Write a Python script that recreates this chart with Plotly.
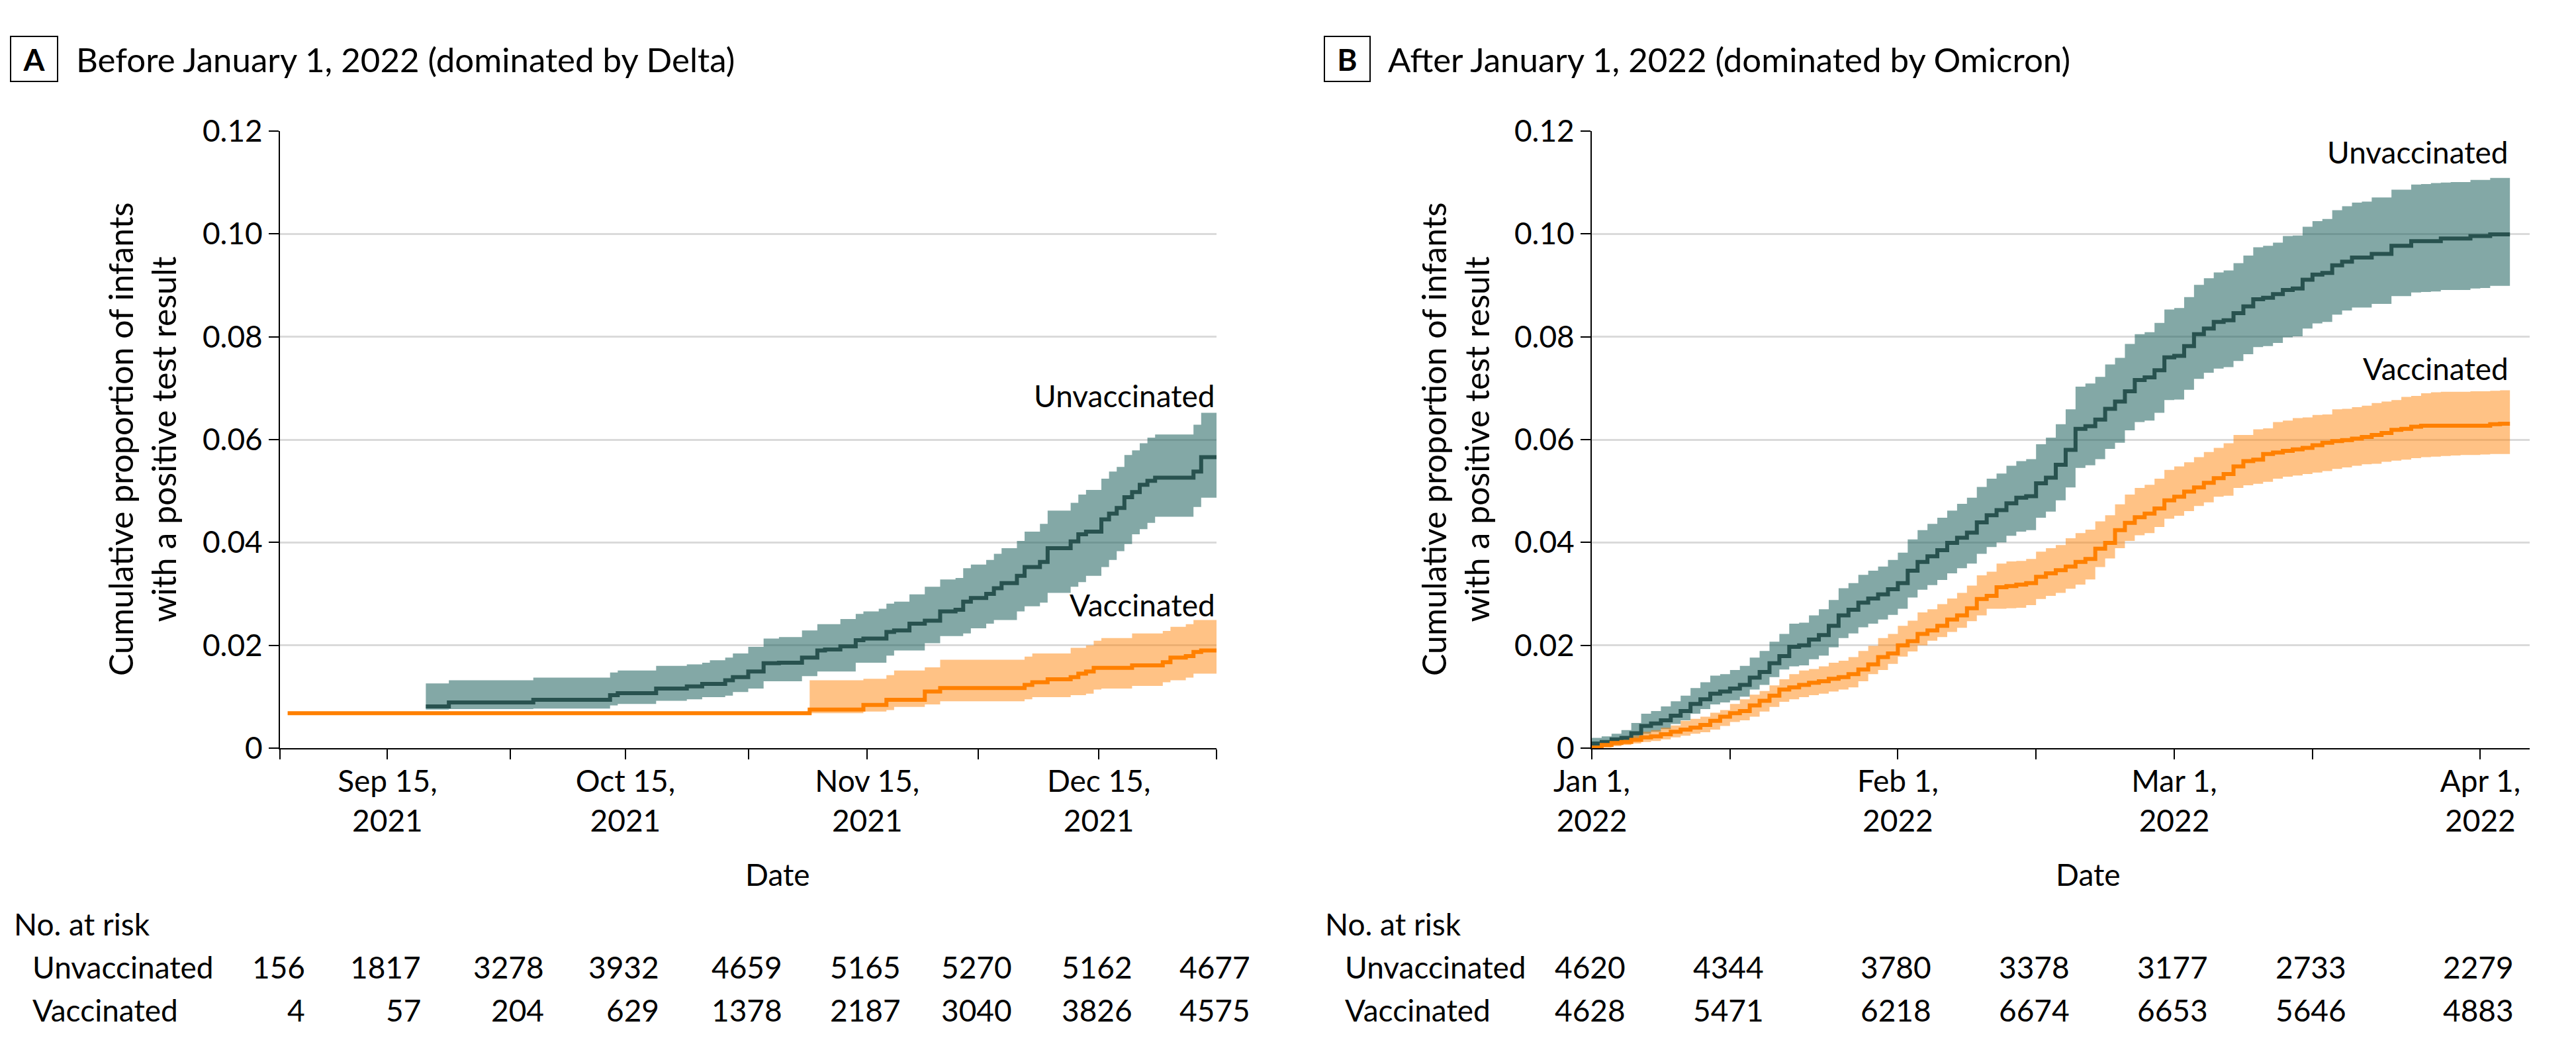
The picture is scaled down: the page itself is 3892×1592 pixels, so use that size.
import pandas as pd
import plotly.graph_objects as go

# ======================= DATA =======================
# ---- Panel A (before Jan 1, 2022): step start dates and cumulative proportions
a_unvax_dates = ["2021-09-20", "2021-09-23", "2021-10-04", "2021-10-14", "2021-10-15", "2021-10-20",
                 "2021-10-24", "2021-10-26", "2021-10-27", "2021-10-29", "2021-10-30", "2021-11-01",
                 "2021-11-03", "2021-11-05", "2021-11-08", "2021-11-10", "2021-11-11", "2021-11-13",
                 "2021-11-15", "2021-11-16", "2021-11-18", "2021-11-19", "2021-11-20", "2021-11-22",
                 "2021-11-24", "2021-11-26", "2021-11-28", "2021-11-29", "2021-11-30", "2021-12-02",
                 "2021-12-03", "2021-12-04", "2021-12-06", "2021-12-07", "2021-12-09", "2021-12-10",
                 "2021-12-13", "2021-12-14", "2021-12-15", "2021-12-17", "2021-12-18", "2021-12-19",
                 "2021-12-20", "2021-12-21", "2021-12-22", "2021-12-23", "2021-12-24", "2021-12-29",
                 "2021-12-30", "2022-01-01"]
a_unvax_cum = [0.0081, 0.0089, 0.0094, 0.0103, 0.0107, 0.0116, 0.0120, 0.0125, 0.0125, 0.0132,
               0.0138, 0.0149, 0.0165, 0.0166, 0.0176, 0.0190, 0.0192, 0.0198, 0.0210, 0.0213,
               0.0213, 0.0226, 0.0229, 0.0242, 0.0248, 0.0266, 0.0269, 0.0285, 0.0292, 0.0300,
               0.0311, 0.0321, 0.0335, 0.0352, 0.0362, 0.0389, 0.0402, 0.0416, 0.0421, 0.0445,
               0.0456, 0.0467, 0.0488, 0.0498, 0.0512, 0.0520, 0.0526, 0.0538, 0.0566, 0.0569]
a_unvax_lo = [0.0075, 0.0076, 0.0077, 0.0083, 0.0086, 0.0092, 0.0095, 0.0099, 0.0099, 0.0102,
              0.0109, 0.0116, 0.0130, 0.0130, 0.0140, 0.0149, 0.0149, 0.0149, 0.0166, 0.0166,
              0.0166, 0.0180, 0.0190, 0.0190, 0.0204, 0.0218, 0.0218, 0.0223, 0.0233, 0.0242,
              0.0249, 0.0249, 0.0266, 0.0276, 0.0283, 0.0302, 0.0314, 0.0323, 0.0335, 0.0352,
              0.0366, 0.0383, 0.0397, 0.0416, 0.0426, 0.0438, 0.0450, 0.0469, 0.0487, 0.0487]
a_unvax_hi = [0.0126, 0.0132, 0.0137, 0.0147, 0.0151, 0.0160, 0.0163, 0.0166, 0.0171, 0.0176,
              0.0184, 0.0197, 0.0213, 0.0216, 0.0229, 0.0241, 0.0241, 0.0251, 0.0261, 0.0266,
              0.0271, 0.0281, 0.0285, 0.0299, 0.0314, 0.0328, 0.0331, 0.0350, 0.0357, 0.0366,
              0.0378, 0.0389, 0.0403, 0.0421, 0.0436, 0.0462, 0.0477, 0.0493, 0.0502, 0.0524,
              0.0538, 0.0547, 0.0570, 0.0579, 0.0593, 0.0604, 0.0610, 0.0629, 0.0652, 0.0652]

a_vax_dates = ["2021-09-02", "2021-11-09", "2021-11-16", "2021-11-19", "2021-11-20", "2021-11-24",
               "2021-11-26", "2021-12-07", "2021-12-08", "2021-12-10", "2021-12-13", "2021-12-14",
               "2021-12-15", "2021-12-16", "2021-12-17", "2021-12-21", "2021-12-25", "2021-12-26",
               "2021-12-28", "2021-12-29", "2021-12-30", "2022-01-01"]
a_vax_cum = [0.0068, 0.0075, 0.0084, 0.0094, 0.0094, 0.0110, 0.0117, 0.0123, 0.0128, 0.0134,
             0.0138, 0.0145, 0.0149, 0.0156, 0.0156, 0.0161, 0.0167, 0.0176, 0.0179, 0.0187,
             0.0190, 0.0190]
a_vax_lo = [None, 0.0068, 0.0071, 0.0074, 0.0080, 0.0085, 0.0091, 0.0095, 0.0099, 0.0099,
            0.0103, 0.0103, 0.0106, 0.0114, 0.0116, 0.0121, 0.0128, 0.0132, 0.0137, 0.0145,
            0.0145, 0.0145]
a_vax_hi = [None, 0.0132, 0.0135, 0.0142, 0.0151, 0.0157, 0.0172, 0.0178, 0.0184, 0.0184,
            0.0195, 0.0195, 0.0200, 0.0209, 0.0214, 0.0223, 0.0228, 0.0236, 0.0241, 0.0249,
            0.0249, 0.0249]

# ---- Panel B (after Jan 1, 2022): daily values starting 2022-01-01
b_start = "2022-01-01"
b_unvax_cum = [0.0009, 0.0012, 0.0017, 0.0020, 0.0029, 0.0043, 0.0048, 0.0054, 0.0063, 0.0072,
               0.0086, 0.0095, 0.0106, 0.0110, 0.0116, 0.0123, 0.0137, 0.0148, 0.0165, 0.0179,
               0.0197, 0.0200, 0.0211, 0.0220, 0.0238, 0.0258, 0.0269, 0.0283, 0.0291, 0.0299,
               0.0309, 0.0321, 0.0345, 0.0362, 0.0373, 0.0385, 0.0399, 0.0409, 0.0419, 0.0439,
               0.0453, 0.0463, 0.0476, 0.0487, 0.0490, 0.0515, 0.0526, 0.0551, 0.0580, 0.0621,
               0.0626, 0.0639, 0.0660, 0.0674, 0.0694, 0.0716, 0.0721, 0.0735, 0.0760, 0.0763,
               0.0782, 0.0805, 0.0816, 0.0829, 0.0832, 0.0846, 0.0859, 0.0873, 0.0876, 0.0883,
               0.0891, 0.0894, 0.0911, 0.0921, 0.0924, 0.0939, 0.0946, 0.0954, 0.0954, 0.0961,
               0.0961, 0.0977, 0.0977, 0.0986, 0.0986, 0.0986, 0.0991, 0.0991, 0.0991, 0.0996,
               0.0996, 0.0999, 0.0999]
b_unvax_lo = [0.0003, 0.0003, 0.0006, 0.0010, 0.0016, 0.0028, 0.0032, 0.0037, 0.0047, 0.0054,
              0.0067, 0.0076, 0.0085, 0.0089, 0.0093, 0.0100, 0.0114, 0.0123, 0.0138, 0.0153,
              0.0159, 0.0161, 0.0173, 0.0180, 0.0196, 0.0214, 0.0223, 0.0235, 0.0242, 0.0250,
              0.0259, 0.0271, 0.0293, 0.0308, 0.0317, 0.0327, 0.0340, 0.0350, 0.0359, 0.0378,
              0.0391, 0.0400, 0.0413, 0.0421, 0.0424, 0.0448, 0.0460, 0.0482, 0.0507, 0.0545,
              0.0550, 0.0562, 0.0582, 0.0594, 0.0618, 0.0634, 0.0637, 0.0652, 0.0677, 0.0678,
              0.0697, 0.0718, 0.0730, 0.0738, 0.0741, 0.0753, 0.0766, 0.0780, 0.0782, 0.0788,
              0.0799, 0.0801, 0.0816, 0.0826, 0.0829, 0.0843, 0.0851, 0.0857, 0.0857, 0.0864,
              0.0864, 0.0879, 0.0879, 0.0886, 0.0887, 0.0888, 0.0891, 0.0891, 0.0891, 0.0894,
              0.0895, 0.0899, 0.0899]
b_unvax_hi = [0.0020, 0.0023, 0.0028, 0.0035, 0.0049, 0.0067, 0.0072, 0.0081, 0.0091, 0.0102,
              0.0117, 0.0128, 0.0141, 0.0144, 0.0152, 0.0160, 0.0176, 0.0189, 0.0207, 0.0222,
              0.0242, 0.0244, 0.0258, 0.0270, 0.0288, 0.0311, 0.0321, 0.0337, 0.0345, 0.0353,
              0.0366, 0.0380, 0.0406, 0.0424, 0.0436, 0.0448, 0.0462, 0.0475, 0.0487, 0.0508,
              0.0524, 0.0534, 0.0549, 0.0558, 0.0562, 0.0591, 0.0604, 0.0630, 0.0659, 0.0703,
              0.0709, 0.0722, 0.0746, 0.0759, 0.0786, 0.0805, 0.0809, 0.0827, 0.0853, 0.0856,
              0.0877, 0.0901, 0.0914, 0.0925, 0.0929, 0.0943, 0.0958, 0.0974, 0.0977, 0.0983,
              0.0996, 0.0997, 0.1014, 0.1025, 0.1029, 0.1046, 0.1054, 0.1061, 0.1063, 0.1071,
              0.1071, 0.1086, 0.1086, 0.1096, 0.1097, 0.1099, 0.1100, 0.1101, 0.1101, 0.1105,
              0.1105, 0.1109, 0.1109]
b_vax_cum = [0.0001, 0.0006, 0.0010, 0.0012, 0.0016, 0.0021, 0.0023, 0.0027, 0.0032, 0.0036,
             0.0040, 0.0045, 0.0053, 0.0061, 0.0068, 0.0072, 0.0083, 0.0092, 0.0102, 0.0114,
             0.0118, 0.0123, 0.0127, 0.0130, 0.0135, 0.0138, 0.0144, 0.0153, 0.0163, 0.0177,
             0.0184, 0.0200, 0.0208, 0.0222, 0.0229, 0.0238, 0.0250, 0.0258, 0.0272, 0.0290,
             0.0296, 0.0313, 0.0315, 0.0318, 0.0321, 0.0333, 0.0340, 0.0346, 0.0353, 0.0362,
             0.0368, 0.0388, 0.0399, 0.0424, 0.0438, 0.0449, 0.0456, 0.0466, 0.0482, 0.0489,
             0.0499, 0.0507, 0.0516, 0.0525, 0.0533, 0.0548, 0.0558, 0.0561, 0.0572, 0.0575,
             0.0578, 0.0581, 0.0584, 0.0589, 0.0594, 0.0597, 0.0599, 0.0602, 0.0605, 0.0609,
             0.0613, 0.0619, 0.0621, 0.0625, 0.0627, 0.0627, 0.0627, 0.0627, 0.0627, 0.0627,
             0.0627, 0.0630, 0.0631]
b_vax_lo = [0.0000, 0.0001, 0.0004, 0.0006, 0.0009, 0.0012, 0.0014, 0.0017, 0.0021, 0.0024,
            0.0028, 0.0031, 0.0036, 0.0043, 0.0051, 0.0054, 0.0061, 0.0071, 0.0080, 0.0090,
            0.0095, 0.0099, 0.0103, 0.0106, 0.0110, 0.0114, 0.0118, 0.0130, 0.0144, 0.0152,
            0.0164, 0.0178, 0.0188, 0.0200, 0.0209, 0.0216, 0.0226, 0.0234, 0.0247, 0.0258,
            0.0271, 0.0271, 0.0272, 0.0273, 0.0278, 0.0290, 0.0296, 0.0302, 0.0310, 0.0318,
            0.0328, 0.0352, 0.0369, 0.0389, 0.0403, 0.0414, 0.0418, 0.0430, 0.0446, 0.0452,
            0.0461, 0.0471, 0.0478, 0.0489, 0.0491, 0.0506, 0.0511, 0.0514, 0.0518, 0.0524,
            0.0528, 0.0530, 0.0533, 0.0536, 0.0539, 0.0543, 0.0546, 0.0549, 0.0552, 0.0553,
            0.0557, 0.0559, 0.0561, 0.0564, 0.0566, 0.0567, 0.0568, 0.0569, 0.0570, 0.0570,
            0.0571, 0.0572, 0.0572]
b_vax_hi = [0.0005, 0.0011, 0.0016, 0.0020, 0.0024, 0.0032, 0.0035, 0.0040, 0.0044, 0.0053,
            0.0057, 0.0061, 0.0069, 0.0074, 0.0086, 0.0095, 0.0104, 0.0111, 0.0122, 0.0134,
            0.0144, 0.0151, 0.0154, 0.0159, 0.0166, 0.0170, 0.0177, 0.0189, 0.0199, 0.0214,
            0.0222, 0.0238, 0.0248, 0.0264, 0.0270, 0.0280, 0.0291, 0.0302, 0.0316, 0.0336,
            0.0343, 0.0359, 0.0363, 0.0364, 0.0368, 0.0382, 0.0389, 0.0395, 0.0408, 0.0418,
            0.0425, 0.0441, 0.0453, 0.0474, 0.0493, 0.0506, 0.0512, 0.0524, 0.0541, 0.0548,
            0.0556, 0.0566, 0.0576, 0.0584, 0.0593, 0.0609, 0.0609, 0.0620, 0.0622, 0.0634,
            0.0637, 0.0642, 0.0643, 0.0648, 0.0649, 0.0659, 0.0660, 0.0663, 0.0666, 0.0671,
            0.0674, 0.0677, 0.0683, 0.0685, 0.0690, 0.0692, 0.0693, 0.0693, 0.0693, 0.0694,
            0.0694, 0.0695, 0.0696]

# ---- axes / ticks
a_range = ["2021-09-01", "2022-01-01"]
a_tick_dates = ["2021-09-01", "2021-09-15", "2021-10-01", "2021-10-16", "2021-11-01",
                "2021-11-16 12:00", "2021-12-01", "2021-12-16 16:00", "2022-01-01"]
a_tick_text = ["", "Sep 15,<br>2021", "", "Oct 15,<br>2021", "", "Nov 15,<br>2021", "",
               "Dec 15,<br>2021", ""]
b_range = ["2022-01-01", "2022-04-06"]
b_tick_dates = ["2022-01-01", "2022-01-15", "2022-02-01", "2022-02-15", "2022-03-01",
                "2022-03-15", "2022-04-01"]
b_tick_text = ["Jan 1,<br>2022", "", "Feb 1,<br>2022", "", "Mar 1,<br>2022", "", "Apr 1,<br>2022"]
y_ticks = [0, 0.02, 0.04, 0.06, 0.08, 0.10, 0.12]
y_tick_text = ["0", "0.02", "0.04", "0.06", "0.08", "0.10", "0.12"]

# ---- numbers at risk
a_risk_unvax = [156, 1817, 3278, 3932, 4659, 5165, 5270, 5162, 4677]
a_risk_vax = [4, 57, 204, 629, 1378, 2187, 3040, 3826, 4575]
b_risk_unvax = [4620, 4344, 3780, 3378, 3177, 2733, 2279]
b_risk_vax = [4628, 5471, 6218, 6674, 6653, 5646, 4883]

titles = ["Before January 1, 2022 (dominated by Delta)", "After January 1, 2022 (dominated by Omicron)"]
panel_letters = ["A", "B"]
y_title = "Cumulative proportion of infants<br>with a positive test result"
series_names = ["Unvaccinated", "Vaccinated"]
label_pos_a = {"Unvaccinated": 0.0685, "Vaccinated": 0.0279}
label_pos_b = {"Unvaccinated": 0.1159, "Vaccinated": 0.0738}

# ======================= STYLE =======================
W, H = 3892, 1592
FONT = "Lato, 'Noto Sans', 'Liberation Sans', sans-serif"
TEAL_LINE = "#28524f"
TEAL_BAND = "rgba(20,90,86,0.53)"
ORANGE_LINE = "#ff8000"
ORANGE_BAND = "rgba(255,128,0,0.48)"
GRID = "#dadada"


def px(x):
    return x / W


def py(y):
    return 1 - y / H


PLOT_TOP, PLOT_BOT = 198, 1130
A_L, A_R = 423, 1838
B_L, B_R = 2405, 3822

fig = go.Figure()


def add_band(dates, lo, hi, color, xa, ya):
    fig.add_trace(go.Scatter(x=dates, y=lo, mode="lines", line=dict(width=0, shape="hv"),
                             hoverinfo="skip", showlegend=False, xaxis=xa, yaxis=ya))
    fig.add_trace(go.Scatter(x=dates, y=hi, mode="lines", line=dict(width=0, shape="hv"),
                             fill="tonexty", fillcolor=color, hoverinfo="skip",
                             showlegend=False, xaxis=xa, yaxis=ya))


def add_line(dates, vals, color, xa, ya, name):
    fig.add_trace(go.Scatter(x=dates, y=vals, mode="lines", name=name,
                             line=dict(width=6, color=color, shape="hv"),
                             showlegend=False, xaxis=xa, yaxis=ya))


# ---- Panel A
va_idx = [i for i, v in enumerate(a_vax_lo) if v is not None]
add_band(a_unvax_dates, a_unvax_lo, a_unvax_hi, TEAL_BAND, "x", "y")
add_band([a_vax_dates[i] for i in va_idx], [a_vax_lo[i] for i in va_idx],
         [a_vax_hi[i] for i in va_idx], ORANGE_BAND, "x", "y")
add_line(a_unvax_dates, a_unvax_cum, TEAL_LINE, "x", "y", "Unvaccinated")
add_line(a_vax_dates, a_vax_cum, ORANGE_LINE, "x", "y", "Vaccinated")

# ---- Panel B
n_b = len(b_unvax_cum)
b_dates = pd.date_range(b_start, periods=n_b + 1, freq="D")


def ext(v):
    return list(v) + [v[-1]]


add_band(b_dates, ext(b_unvax_lo), ext(b_unvax_hi), TEAL_BAND, "x2", "y2")
add_band(b_dates, ext(b_vax_lo), ext(b_vax_hi), ORANGE_BAND, "x2", "y2")
add_line(b_dates, ext(b_unvax_cum), TEAL_LINE, "x2", "y2", "Unvaccinated")
add_line(b_dates, ext(b_vax_cum), ORANGE_LINE, "x2", "y2", "Vaccinated")

ydom = [py(PLOT_BOT), py(PLOT_TOP)]
TICKFONT = dict(family=FONT, size=46, color="black")
xcommon = dict(type="date", showgrid=False, zeroline=False, showline=True, linecolor="black",
               linewidth=2, ticks="outside", ticklen=15, tickwidth=2, tickcolor="black",
               tickfont=TICKFONT, tickmode="array", fixedrange=True, automargin=False,
               ticklabelstandoff=-6)
ycommon = dict(range=[0, 0.12], tickmode="array", tickvals=y_ticks, ticktext=y_tick_text,
               showgrid=True, gridcolor=GRID, gridwidth=3, zeroline=False, showline=True,
               linecolor="black", linewidth=2, ticks="outside", ticklen=15, tickwidth=2,
               tickcolor="black", tickfont=TICKFONT, fixedrange=True, automargin=False)

fig.update_layout(
    template="none",
    width=W, height=H, margin=dict(l=0, r=0, t=0, b=0, pad=0, autoexpand=False),
    paper_bgcolor="white", plot_bgcolor="white", showlegend=False,
    font=dict(family=FONT, size=46, color="black"),
    xaxis=dict(xcommon, domain=[px(A_L), px(A_R)], range=a_range, tickvals=a_tick_dates,
               ticktext=a_tick_text, anchor="y"),
    yaxis=dict(ycommon, domain=ydom, anchor="x"),
    xaxis2=dict(xcommon, domain=[px(B_L), px(B_R)], range=b_range, tickvals=b_tick_dates,
                ticktext=b_tick_text, anchor="y2"),
    yaxis2=dict(ycommon, domain=ydom, anchor="x2"),
)

ann = []
panels = [
    dict(xr="x", box=(15, 88), title_x=113, ytitle_x=215, date_x=1175,
         nar_x=19, row_x=47, ticks=a_tick_dates, ru=a_risk_unvax, rv=a_risk_vax,
         end=a_range[1], labels=label_pos_a, first_shift=40),
    dict(xr="x2", box=(2000, 2071), title_x=2095, ytitle_x=2199, date_x=3155,
         nar_x=2000, row_x=2030, ticks=b_tick_dates, ru=b_risk_unvax, rv=b_risk_vax,
         end=str(b_dates[-1].date()), labels=label_pos_b, first_shift=53),
]
for i, p in enumerate(panels):
    bx0, bx1 = p["box"]
    ann.append(dict(text="<b>" + panel_letters[i] + "</b>", xref="paper", yref="paper",
                    x=px((bx0 + bx1) / 2), y=py(89), xanchor="center", yanchor="middle",
                    showarrow=False, font=dict(family=FONT, size=46, color="black"),
                    width=bx1 - bx0 - 4, height=66, bordercolor="black", borderwidth=2,
                    borderpad=0))
    ann.append(dict(text=titles[i], xref="paper", yref="paper", x=px(p["title_x"]), y=py(90),
                    xanchor="left", yanchor="middle", showarrow=False,
                    font=dict(family=FONT, size=51, color="black")))
    ann.append(dict(text=y_title, xref="paper", yref="paper", x=px(p["ytitle_x"]),
                    y=py((PLOT_TOP + PLOT_BOT) / 2), xanchor="center", yanchor="middle",
                    textangle=-90, showarrow=False,
                    font=dict(family=FONT, size=50, color="black")))
    ann.append(dict(text="Date", xref="paper", yref="paper", x=px(p["date_x"]), y=py(1320),
                    xanchor="center", yanchor="middle", showarrow=False,
                    font=dict(family=FONT, size=46, color="black")))
    ann.append(dict(text="No. at risk", xref="paper", yref="paper", x=px(p["nar_x"]), y=py(1395),
                    xanchor="left", yanchor="middle", showarrow=False,
                    font=dict(family=FONT, size=46, color="black")))
    for name, yy in zip(series_names, [1460, 1525]):
        ann.append(dict(text=name, xref="paper", yref="paper", x=px(p["row_x"]), y=py(yy),
                        xanchor="left", yanchor="middle", showarrow=False,
                        font=dict(family=FONT, size=46, color="black")))
    for vals, yy in zip([p["ru"], p["rv"]], [1460, 1525]):
        for j, (d, v) in enumerate(zip(p["ticks"], vals)):
            ann.append(dict(text=str(v), xref=p["xr"], yref="paper", x=d, y=py(yy),
                            xanchor="right", xshift=p["first_shift"] if j == 0 else 53,
                            yanchor="middle", showarrow=False,
                            font=dict(family=FONT, size=46, color="black")))
    yref = "y" if p["xr"] == "x" else "y2"
    for name in series_names:
        ann.append(dict(text=name, xref=p["xr"], yref=yref, x=p["end"], y=p["labels"][name],
                        xanchor="right", yanchor="middle", showarrow=False,
                        font=dict(family=FONT, size=46, color="black")))

fig.update_layout(annotations=ann)
fig.write_html("out.html", config={"displayModeBar": False},
               post_script="document.body.style.margin='0';")
